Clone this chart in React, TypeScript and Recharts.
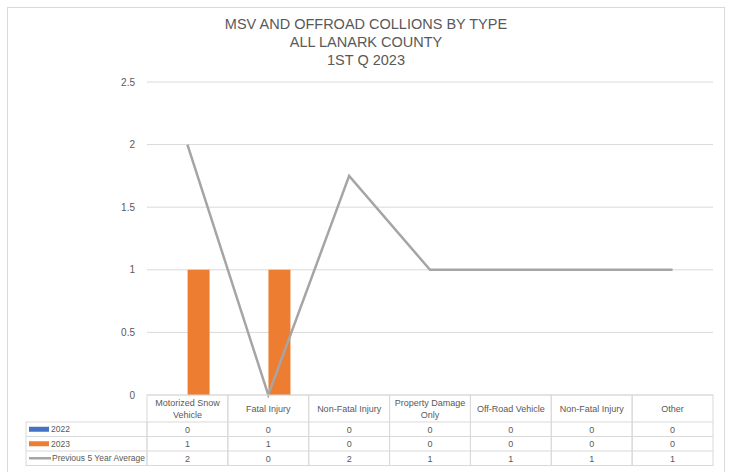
import { ComposedChart, Bar, Line, XAxis, YAxis, CartesianGrid } from "recharts";

const categories = [
  "Motorized Snow Vehicle",
  "Fatal Injury",
  "Non-Fatal Injury",
  "Property Damage Only",
  "Off-Road Vehicle",
  "Non-Fatal Injury",
  "Other",
];
const values2022 = [0, 0, 0, 0, 0, 0, 0];
const values2023 = [1, 1, 0, 0, 0, 0, 0];
const fiveYearAvg = [2, 0, 1.75, 1, 1, 1, 1];
const yTicks = [0, 0.5, 1, 1.5, 2, 2.5];
const titleLines = ["MSV AND OFFROAD COLLIONS BY TYPE", "ALL LANARK COUNTY", "1ST Q 2023"];

const series = [
  { name: "2022", key: "y2022", values: values2022, color: "#4472C4", kind: "bar" },
  { name: "2023", key: "y2023", values: values2023, color: "#ED7D31", kind: "bar" },
  { name: "Previous 5 Year Average", key: "avg", values: fiveYearAvg, color: "#A5A5A5", kind: "line" },
];

const data = categories.map((c, i) => ({
  idx: i,
  name: c,
  y2022: values2022[i],
  y2023: values2023[i],
  avg: fiveYearAvg[i],
}));

const W = 731;
const H = 472;
const PLOT_LEFT = 147;
const PLOT_RIGHT = 713;
const PLOT_TOP = 82;
const PLOT_BOTTOM = 395;
const BAND = (PLOT_RIGHT - PLOT_LEFT) / categories.length;
const HEADER_H = 27;
const ROW_H = 14.5;
const LEGEND_LEFT = 26;
const FONT = "'Liberation Sans', Arial, sans-serif";
const TEXT = "#595959";
const GRID = "#d9d9d9";

function wrap(label: string, max = 16) {
  if (label.length <= max) return [label];
  const cut = label.lastIndexOf(" ", max);
  return [label.slice(0, cut), label.slice(cut + 1)];
}

function TableColumn(props: any) {
  const { payload, index } = props;
  const cx = payload.coordinate;
  const i = payload.value as number;
  const left = cx - BAND / 2;
  const top = PLOT_BOTTOM;
  const lines = wrap(categories[i]);
  return (
    <g fontFamily={FONT} fontSize={9} fill={TEXT}>
      <rect x={left} y={top} width={BAND} height={HEADER_H + ROW_H * 3} fill="none" stroke={GRID} />
      {[0, 1, 2].map((r) => (
        <line key={r} x1={left} x2={left + BAND} y1={top + HEADER_H + ROW_H * r} y2={top + HEADER_H + ROW_H * r} stroke={GRID} />
      ))}
      {lines.map((l, k) => (
        <text key={k} x={cx} y={top + HEADER_H / 2 + (k - (lines.length - 1) / 2) * 12 + 3.5} textAnchor="middle" stroke="none">
          {l}
        </text>
      ))}
      {series.map((s, r) => (
        <text key={s.key} x={cx} y={top + HEADER_H + ROW_H * r + ROW_H / 2 + 3.5} textAnchor="middle" stroke="none">
          {Math.round(s.values[i])}
        </text>
      ))}
      {index === 0 && (
        <g>
          <rect x={LEGEND_LEFT} y={top + HEADER_H} width={PLOT_LEFT - LEGEND_LEFT} height={ROW_H * 3} fill="none" stroke={GRID} />
          {[1, 2].map((r) => (
            <line key={r} x1={LEGEND_LEFT} x2={PLOT_LEFT} y1={top + HEADER_H + ROW_H * r} y2={top + HEADER_H + ROW_H * r} stroke={GRID} />
          ))}
          {series.map((s, r) => {
            const yy = top + HEADER_H + ROW_H * r + ROW_H / 2;
            return (
              <g key={s.key}>
                {s.kind === "bar" ? (
                  <rect x={29} y={yy - 2.5} width={20} height={5} fill={s.color} />
                ) : (
                  <line x1={29} x2={51} y1={yy} y2={yy} stroke={s.color} strokeWidth={2.5} />
                )}
                <text x={s.kind === "bar" ? 51 : 52} y={yy + 3.2} stroke="none" fontSize={8.5}>
                  {s.name}
                </text>
              </g>
            );
          })}
        </g>
      )}
    </g>
  );
}

export default function App() {
  return (
    <div style={{ position: "absolute", left: 0, top: 0, width: W, height: H, background: "#fff" }}>
      <svg width={W} height={H} style={{ position: "absolute", left: 0, top: 0 }}>
        <rect x={7.5} y={7.5} width={717} height={H + 10} fill="none" stroke={GRID} />
        {titleLines.map((t, k) => (
          <text key={k} x={366} y={29 + k * 18} textAnchor="middle" fontFamily={FONT} fontSize={14.5} fill={TEXT}>
            {t}
          </text>
        ))}
      </svg>
      <div style={{ position: "absolute", left: 0, top: 0 }}>
        <ComposedChart
          width={W}
          height={H}
          data={data}
          margin={{ top: PLOT_TOP, right: W - PLOT_RIGHT, bottom: 0, left: PLOT_LEFT - 40 }}
          barCategoryGap="23%"
          barGap={0}
        >
          <CartesianGrid vertical={false} stroke={GRID} />
          <XAxis
            dataKey="idx"
            type="category"
            height={H - PLOT_BOTTOM}
            axisLine={false}
            tickLine={false}
            interval={0}
            tick={<TableColumn />}
          />
          <YAxis
            width={40}
            domain={[0, 2.5]}
            ticks={yTicks}
            axisLine={false}
            tickLine={false}
            tickMargin={6}
            tick={{ fontFamily: FONT, fontSize: 10, fill: TEXT }}
          />
          <Bar dataKey="y2022" fill="#4472C4" isAnimationActive={false} />
          <Bar dataKey="y2023" fill="#ED7D31" isAnimationActive={false} />
          <Line dataKey="avg" type="linear" stroke="#A5A5A5" strokeWidth={2.5} dot={false} isAnimationActive={false} />
        </ComposedChart>
      </div>
    </div>
  );
}
